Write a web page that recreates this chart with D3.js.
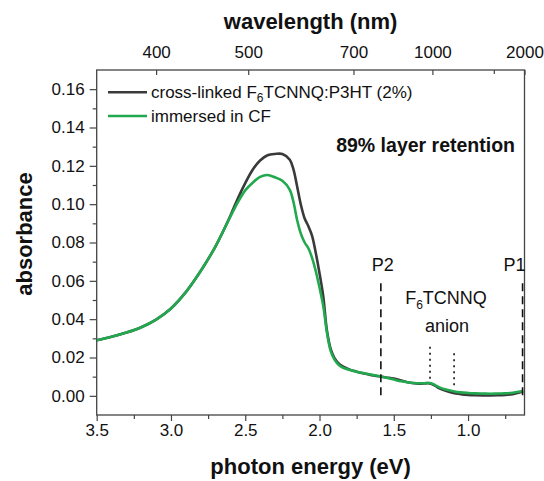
<!DOCTYPE html>
<html>
<head>
<meta charset="utf-8">
<script src="https://cdn.jsdelivr.net/npm/d3@7"></script>
<style>
  html, body { margin: 0; padding: 0; background: #fff; }
  svg text { font-family: "Liberation Sans", Arial, sans-serif; fill: #111; }
</style>
</head>
<body>
<svg id="chart" width="544" height="481"></svg>
<script>
// ---- data ----
const energy = [3.5, 3.4, 3.3, 3.2, 3.1, 3.0, 2.9, 2.8, 2.7, 2.6, 2.55, 2.5, 2.45, 2.4, 2.35, 2.3, 2.25, 2.2, 2.175, 2.15, 2.125, 2.1, 2.075, 2.05, 2.025, 2.0, 1.975, 1.95, 1.925, 1.9, 1.875, 1.85, 1.8, 1.75, 1.7, 1.65, 1.6, 1.55, 1.5, 1.45, 1.4, 1.35, 1.3, 1.27, 1.25, 1.22, 1.2, 1.15, 1.1, 1.05, 1.0, 0.95, 0.9, 0.85, 0.8, 0.75, 0.7, 0.66, 0.63];
const crossLinked = [0.0290, 0.0308, 0.0330, 0.0358, 0.0398, 0.0456, 0.0541, 0.0651, 0.0780, 0.0940, 0.1030, 0.1110, 0.1180, 0.1228, 0.1255, 0.1262, 0.1262, 0.1232, 0.1180, 0.1090, 0.0995, 0.0925, 0.0885, 0.0835, 0.0745, 0.0640, 0.0520, 0.0340, 0.0245, 0.0198, 0.0172, 0.0156, 0.0138, 0.0126, 0.0116, 0.0108, 0.0102, 0.0096, 0.0090, 0.0080, 0.0070, 0.0065, 0.0064, 0.0066, 0.0063, 0.0052, 0.0042, 0.0026, 0.0015, 0.0009, 0.0005, 0.0003, 0.0002, 0.0002, 0.0003, 0.0005, 0.0009, 0.0016, 0.0024];
const immersedCF = [0.0290, 0.0308, 0.0330, 0.0358, 0.0398, 0.0456, 0.0541, 0.0651, 0.0780, 0.0935, 0.1010, 0.1072, 0.1112, 0.1142, 0.1152, 0.1140, 0.1122, 0.1075, 0.1010, 0.0915, 0.0845, 0.0800, 0.0770, 0.0720, 0.0650, 0.0565, 0.0470, 0.0330, 0.0235, 0.0190, 0.0165, 0.0150, 0.0136, 0.0126, 0.0118, 0.0110, 0.0103, 0.0094, 0.0085, 0.0076, 0.0070, 0.0066, 0.0066, 0.0068, 0.0066, 0.0055, 0.0047, 0.0033, 0.0024, 0.0018, 0.0015, 0.0013, 0.0012, 0.0011, 0.0012, 0.0013, 0.0016, 0.0021, 0.0027];
const seriesNames = ["cross-linked F6TCNNQ:P3HT (2%)", "immersed in CF"];
const seriesColors = ["#3a3a3a", "#22a84f"];
const energyTicks = [3.5, 3.0, 2.5, 2.0, 1.5, 1.0];
const energyMinorTicks = [3.25, 2.75, 2.25, 1.75, 1.25, 0.75];
const absTicks = [0.00, 0.02, 0.04, 0.06, 0.08, 0.10, 0.12, 0.14, 0.16];
const absMinorTicks = [0.01, 0.03, 0.05, 0.07, 0.09, 0.11, 0.13, 0.15];
const wavelengthTicks = [400, 500, 700, 1000, 2000];
const wavelengthMinorTicks = [1500];
const polaronLines = [ {label: "P2", e: 1.587}, {label: "P1", e: 0.633} ];   // dashed, from 0 to 0.0587
const anionLines = [ {e: 1.256, y0: 0.0082, y1: 0.0256}, {e: 1.094, y0: 0.0047, y1: 0.0222} ];

// ---- layout ----
const svg = d3.select("#chart");
const L = 96.7, R = 524.5, T = 70, B = 415;
const x = d3.scaleLinear().domain([3.5, 0.62]).range([L, R]);
const y = d3.scaleLinear().domain([-0.01, 0.17]).range([B, T]);
const axisColor = "#444";
const tickFont = 17;

function styleAxis(g) {
  g.selectAll(".domain").remove();
  g.selectAll("line").attr("stroke", axisColor).attr("stroke-width", 1.2);
  g.selectAll("text").attr("font-size", tickFont).attr("fill", "#111")
    .attr("font-family", '"Liberation Sans", Arial, sans-serif');
}

// bottom axis
svg.append("g").attr("transform", `translate(0,${B})`)
  .call(d3.axisBottom(x).tickValues(energyTicks).tickFormat(d3.format(".1f")).tickSize(6).tickPadding(3))
  .call(styleAxis);
svg.append("g").attr("transform", `translate(0,${B})`)
  .call(d3.axisBottom(x).tickValues(energyMinorTicks).tickFormat("").tickSize(4))
  .call(styleAxis);

// left axis
svg.append("g").attr("transform", `translate(${L},0)`)
  .call(d3.axisLeft(y).tickValues(absTicks).tickFormat(d3.format(".2f")).tickSize(7).tickPadding(5))
  .call(styleAxis);
svg.append("g").attr("transform", `translate(${L},0)`)
  .call(d3.axisLeft(y).tickValues(absMinorTicks).tickFormat("").tickSize(4))
  .call(styleAxis);

// top axis (wavelength = 1240 / E), ticks pointing inward
svg.append("g").attr("transform", `translate(0,${T})`)
  .call(d3.axisTop(x).tickValues(wavelengthTicks.map(w => 1240 / w))
        .tickFormat(e => String(Math.round(1240 / e / 100) * 100)).tickSizeInner(-5).tickSizeOuter(0).tickPadding(12))
  .call(styleAxis);
svg.append("g").attr("transform", `translate(0,${T})`)
  .call(d3.axisTop(x).tickValues(wavelengthMinorTicks.map(w => 1240 / w)).tickFormat("").tickSizeInner(-4).tickSizeOuter(0))
  .call(styleAxis);

// frame
svg.append("rect").attr("x", L).attr("y", T).attr("width", R - L).attr("height", B - T)
  .attr("fill", "none").attr("stroke", axisColor).attr("stroke-width", 1.3);

// axis titles
svg.append("text").attr("x", (L + R) / 2).attr("y", 29).attr("text-anchor", "middle")
  .attr("font-size", 22).attr("font-weight", "bold").text("wavelength (nm)");
svg.append("text").attr("x", (L + R) / 2).attr("y", 474).attr("text-anchor", "middle")
  .attr("font-size", 22).attr("font-weight", "bold").text("photon energy (eV)");
svg.append("text").attr("transform", "translate(32,234) rotate(-90)").attr("text-anchor", "middle")
  .attr("font-size", 22).attr("font-weight", "bold").text("absorbance");

// clip
svg.append("defs").append("clipPath").attr("id", "clip")
  .append("rect").attr("x", L).attr("y", T).attr("width", R - L).attr("height", B - T);

// curves
const line = d3.line().x(d => x(d[0])).y(d => y(d[1])).curve(d3.curveCatmullRom.alpha(0.5));
const plot = svg.append("g").attr("clip-path", "url(#clip)");
[crossLinked, immersedCF].forEach((vals, i) => {
  plot.append("path").datum(energy.map((e, k) => [e, vals[k]]))
    .attr("d", line).attr("fill", "none").attr("stroke", seriesColors[i])
    .attr("stroke-width", 2.6).attr("stroke-linejoin", "round");
});

// polaron markers
polaronLines.forEach(p => {
  svg.append("line").attr("x1", x(p.e)).attr("x2", x(p.e)).attr("y1", y(0.0587)).attr("y2", y(0))
    .attr("stroke", "#111").attr("stroke-width", 1.6).attr("stroke-dasharray", "8,5");
});
svg.append("text").attr("x", x(polaronLines[0].e) + 2).attr("y", 271).attr("text-anchor", "middle")
  .attr("font-size", 18).text(polaronLines[0].label);
svg.append("text").attr("x", x(polaronLines[1].e) + 3).attr("y", 271).attr("text-anchor", "end")
  .attr("font-size", 18).text(polaronLines[1].label);
anionLines.forEach(a => {
  svg.append("line").attr("x1", x(a.e)).attr("x2", x(a.e)).attr("y1", y(a.y1)).attr("y2", y(a.y0))
    .attr("stroke", "#111").attr("stroke-width", 1.6).attr("stroke-dasharray", "2,4");
});
const anionText = svg.append("text").attr("x", 446).attr("y", 304).attr("text-anchor", "middle").attr("font-size", 18);
anionText.append("tspan").text("F");
anionText.append("tspan").attr("font-size", 12).attr("dy", 5).text("6");
anionText.append("tspan").attr("dy", -5).text("TCNNQ");
svg.append("text").attr("x", 447).attr("y", 332).attr("text-anchor", "middle").attr("font-size", 18).text("anion");

// retention note
svg.append("text").attr("x", 515).attr("y", 152).attr("text-anchor", "end")
  .attr("font-size", 19.5).attr("font-weight", "bold").text("89% layer retention");

// legend
const legY = [92.3, 116];
seriesNames.forEach((name, i) => {
  svg.append("line").attr("x1", 108).attr("x2", 147).attr("y1", legY[i]).attr("y2", legY[i])
    .attr("stroke", seriesColors[i]).attr("stroke-width", 2.6);
  const t = svg.append("text").attr("x", 151).attr("y", legY[i] + 6).attr("font-size", 17);
  if (i === 0) {
    t.append("tspan").text("cross-linked F");
    t.append("tspan").attr("font-size", 12).attr("dy", 4).text("6");
    t.append("tspan").attr("dy", -4).text("TCNNQ:P3HT (2%)");
  } else {
    t.text(name);
  }
});
</script>
</body>
</html>
